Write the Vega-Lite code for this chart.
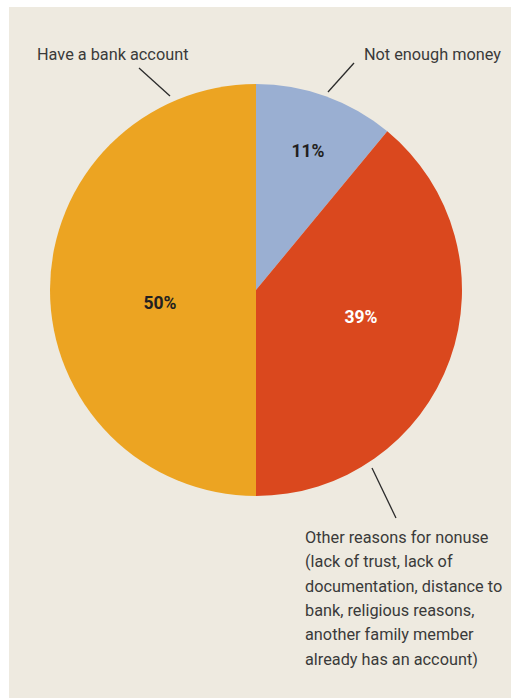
{
  "$schema": "https://vega.github.io/schema/vega-lite/v6.json",
  "width": 502,
  "height": 691,
  "padding": {"left": 9, "top": 7, "right": 0, "bottom": 0},
  "autosize": {"type": "none"},
  "background": "#ffffff",
  "config": {
    "view": {"fill": "#eeeae0", "stroke": null},
    "text": {"font": "Roboto"}
  },
  "datasets": {
    "slices": [
      {"category": "Not enough money", "share": 11, "label": "11%", "lu": 0.252, "lv": 0.670},
      {"category": "Other reasons for nonuse", "share": 39, "label": "39%", "lu": 0.510, "lv": -0.136},
      {"category": "Have a bank account", "share": 50, "label": "50%", "lu": -0.466, "lv": -0.068}
    ],
    "callouts": [
      {"text": "Have a bank account", "u": -1.0631, "v": 1.1165, "align": "left"},
      {"text": "Not enough money", "u": 1.1893, "v": 1.1165, "align": "right"},
      {"text": "Other reasons for nonuse\n(lack of trust, lack of\ndocumentation, distance to\nbank, religious reasons,\nanother family member\nalready has an account)", "u": 0.2379, "v": -1.2291, "align": "left"}
    ],
    "leaders": [
      {"u1": -0.5680, "v1": 1.0777, "u2": -0.4175, "v2": 0.9417},
      {"u1": 0.4757, "v1": 1.1019, "u2": 0.3495, "v2": 0.9612},
      {"u1": 0.5631, "v1": -0.8641, "u2": 0.6796, "v2": -1.1068}
    ]
  },
  "layer": [
    {
      "data": {"name": "slices"},
      "mark": {"type": "arc", "outerRadius": 206},
      "encoding": {
        "theta": {"field": "share", "type": "quantitative", "stack": true},
        "order": {"field": "share", "type": "quantitative", "sort": "ascending"},
        "color": {
          "field": "category",
          "type": "nominal",
          "scale": {
            "domain": ["Not enough money", "Other reasons for nonuse", "Have a bank account"],
            "range": ["#9aafd2", "#da481e", "#eca422"]
          },
          "legend": null
        },
        "x": {"datum": 0, "type": "quantitative", "scale": {"domain": [-1.1990, 1.2379], "nice": false, "zero": false}, "axis": null},
        "y": {"datum": 0, "type": "quantitative", "scale": {"domain": [-1.9806, 1.3738], "nice": false, "zero": false}, "axis": null}
      }
    },
    {
      "data": {"name": "slices"},
      "mark": {"type": "text", "fontSize": 17.5, "fontWeight": "bold", "align": "center", "baseline": "middle"},
      "encoding": {
        "x": {"field": "lu", "type": "quantitative"},
        "y": {"field": "lv", "type": "quantitative"},
        "text": {"field": "label", "type": "nominal"},
        "color": {
          "condition": {"test": "datum.category === 'Other reasons for nonuse'", "value": "#ffffff"},
          "value": "#231f20"
        }
      }
    },
    {
      "data": {"name": "leaders"},
      "mark": {"type": "rule", "color": "#2b2b2b", "strokeWidth": 1.3},
      "encoding": {
        "x": {"field": "u1", "type": "quantitative"},
        "y": {"field": "v1", "type": "quantitative"},
        "x2": {"field": "u2"},
        "y2": {"field": "v2"}
      }
    },
    {
      "data": {"name": "callouts"},
      "transform": [{"filter": "datum.align === 'left'"}],
      "mark": {"type": "text", "fontSize": 16.3, "align": "left", "baseline": "alphabetic", "lineBreak": "\n", "lineHeight": 24.3, "color": "#3a3a3a"},
      "encoding": {
        "x": {"field": "u", "type": "quantitative"},
        "y": {"field": "v", "type": "quantitative"},
        "text": {"field": "text", "type": "nominal"}
      }
    },
    {
      "data": {"name": "callouts"},
      "transform": [{"filter": "datum.align === 'right'"}],
      "mark": {"type": "text", "fontSize": 16.3, "align": "right", "baseline": "alphabetic", "color": "#3a3a3a"},
      "encoding": {
        "x": {"field": "u", "type": "quantitative"},
        "y": {"field": "v", "type": "quantitative"},
        "text": {"field": "text", "type": "nominal"}
      }
    }
  ]
}
